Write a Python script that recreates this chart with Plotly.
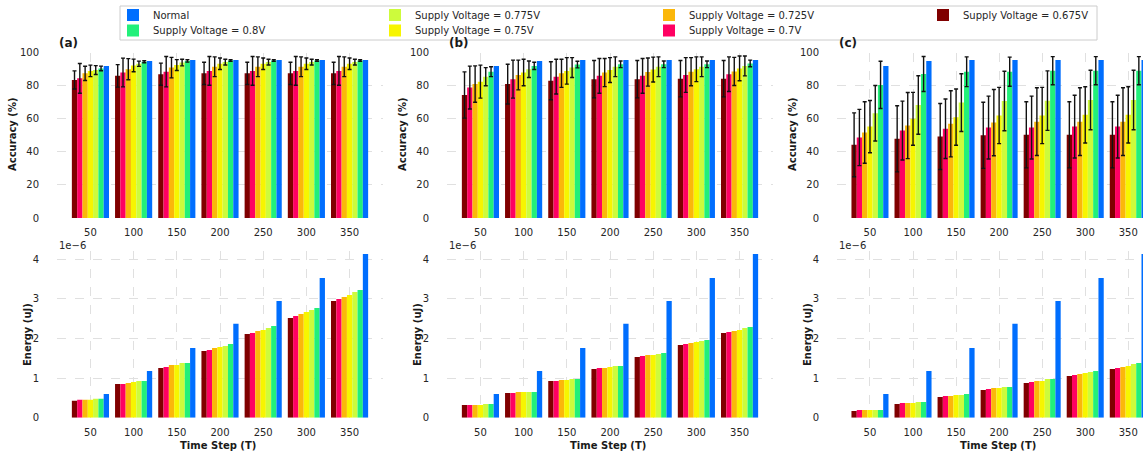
import plotly.graph_objects as go

W, H = 1143, 453

time_steps = [50, 100, 150, 200, 250, 300, 350]
series_names = ["Supply Voltage = 0.675V", "Supply Voltage = 0.7V", "Supply Voltage = 0.725V",
                "Supply Voltage = 0.75V", "Supply Voltage = 0.775V", "Supply Voltage = 0.8V", "Normal"]
series_colors = ["#800000", "#ff0062", "#fbb70a", "#f7f500", "#cdfb3c", "#22f07a", "#006efe"]
# legend slot of each series (matplotlib ncol=4 layout: row-major slots)
legend_ids = ["legend4", "legend7", "legend3", "legend6", "legend2", "legend5", "legend"]

acc_normal = [92, 95, 95.6, 95.6, 95.6, 95.6, 95.6]

# Panel (a) accuracy
acc_a_0675 = [83.5, 86, 87, 87.5, 87.5, 87.5, 87.5]
acc_a_0700 = [84.5, 88, 88.5, 89, 89, 89, 89]
acc_a_0725 = [87.5, 90, 91, 91.5, 91.5, 91.5, 91.5]
acc_a_0750 = [89, 92.3, 92.5, 93.3, 93.3, 93.3, 93.3]
acc_a_0775 = [89.5, 93.3, 94, 94.3, 94.3, 94.3, 94.3]
acc_a_0800 = [90.5, 94.5, 95, 95.3, 95.3, 95.3, 95.3]
err_a_0675 = [5.5, 6.8, 6.7, 6.7, 6.7, 6.7, 6.7]
err_a_0700 = [9, 8.7, 9.2, 8.7, 8.7, 8.7, 8.7]
err_a_0725 = [4.3, 6.4, 6.2, 6, 6, 6, 6]
err_a_0750 = [3.5, 3.8, 3.3, 3.5, 3.5, 3.5, 3.5]
err_a_0775 = [2.7, 1.6, 2, 1.7, 1.7, 1.7, 1.7]
err_a_0800 = [1.4, 0.6, 0.7, 0.5, 0.5, 0.5, 0.5]

# Panel (b) accuracy
acc_b_0675 = [74.4, 81, 83, 84, 84, 84.3, 84.3]
acc_b_0700 = [78.9, 84, 85.5, 86, 86, 86.5, 87]
acc_b_0725 = [81, 86.5, 87.5, 88, 88.3, 88.5, 88.7]
acc_b_0750 = [82.5, 88, 89, 89.5, 89.8, 90, 90.5]
acc_b_0775 = [85.5, 90, 91, 91.5, 91.5, 91.5, 92]
acc_b_0800 = [88.5, 92, 92.8, 93, 93, 93, 93.5]
err_b_0675 = [14, 12, 11.5, 11.3, 11.3, 11, 11]
err_b_0700 = [13, 11.5, 10.5, 10.5, 10.5, 10.5, 10.5]
err_b_0725 = [11, 9, 8.5, 8.5, 8.5, 8.5, 8.5]
err_b_0750 = [10, 8, 8, 7.5, 7.5, 7.5, 7.5]
err_b_0775 = [5.5, 5, 6, 6, 6, 6, 6]
err_b_0800 = [3, 2.2, 2, 2, 2, 2, 2]

# Panel (c) accuracy
acc_c_0675 = [44.3, 47.9, 49.3, 50, 50.3, 50.3, 50.3]
acc_c_0700 = [48.7, 52.9, 54, 54.7, 54.7, 55.3, 55.3]
acc_c_0725 = [51.7, 55.9, 57, 57.7, 58.3, 58.3, 58.3]
acc_c_0750 = [55.3, 60, 61, 62, 62, 62.4, 62.4]
acc_c_0775 = [63.4, 68.4, 69.8, 70.8, 71, 71.4, 71.4]
acc_c_0800 = [80.5, 87.1, 88.5, 88.5, 89.1, 89.1, 89.1]
err_c_0675 = [19.3, 20, 20, 20, 20, 20, 20]
err_c_0700 = [17, 17.8, 18, 19, 19, 19, 19]
err_c_0725 = [18.6, 20, 20, 20, 20.5, 20.5, 20.5]
err_c_0750 = [15.8, 16, 17, 17, 17, 17, 17]
err_c_0775 = [16.8, 17.7, 17.5, 18, 18, 18, 18]
err_c_0800 = [14.3, 10.6, 9, 8.8, 8.5, 8.5, 8.5]

# Energy (in units of 1e-6 uJ)
energy_normal = [0.6, 1.18, 1.76, 2.37, 2.95, 3.53, 4.135]
en_a_0675 = [0.43, 0.85, 1.255, 1.684, 2.114, 2.518, 2.947]
en_a_0700 = [0.455, 0.85, 1.28, 1.71, 2.139, 2.568, 2.998]
en_a_0725 = [0.455, 0.876, 1.33, 1.76, 2.19, 2.619, 3.048]
en_a_0750 = [0.455, 0.9, 1.33, 1.785, 2.215, 2.669, 3.099]
en_a_0775 = [0.48, 0.926, 1.38, 1.81, 2.265, 2.72, 3.175]
en_a_0800 = [0.48, 0.926, 1.38, 1.86, 2.316, 2.77, 3.225]

en_b_0675 = [0.32, 0.623, 0.926, 1.23, 1.533, 1.836, 2.139]
en_b_0700 = [0.32, 0.623, 0.926, 1.255, 1.558, 1.861, 2.164]
en_b_0725 = [0.32, 0.648, 0.95, 1.255, 1.583, 1.886, 2.19]
en_b_0750 = [0.32, 0.648, 0.95, 1.28, 1.583, 1.91, 2.215]
en_b_0775 = [0.345, 0.648, 0.977, 1.305, 1.608, 1.937, 2.265]
en_b_0800 = [0.345, 0.648, 0.977, 1.305, 1.634, 1.962, 2.29]

en_c_0675 = [0.168, 0.345, 0.522, 0.7, 0.876, 1.053, 1.23]
en_c_0700 = [0.194, 0.37, 0.547, 0.724, 0.9, 1.078, 1.255]
en_c_0725 = [0.194, 0.37, 0.547, 0.75, 0.926, 1.103, 1.28]
en_c_0750 = [0.194, 0.37, 0.573, 0.75, 0.926, 1.128, 1.305]
en_c_0775 = [0.194, 0.396, 0.573, 0.775, 0.977, 1.154, 1.356]
en_c_0800 = [0.194, 0.396, 0.598, 0.775, 0.977, 1.18, 1.38]

panels = {
    "a": dict(acc=[acc_a_0675, acc_a_0700, acc_a_0725, acc_a_0750, acc_a_0775, acc_a_0800, acc_normal],
              err=[err_a_0675, err_a_0700, err_a_0725, err_a_0750, err_a_0775, err_a_0800, None],
              en=[en_a_0675, en_a_0700, en_a_0725, en_a_0750, en_a_0775, en_a_0800, energy_normal]),
    "b": dict(acc=[acc_b_0675, acc_b_0700, acc_b_0725, acc_b_0750, acc_b_0775, acc_b_0800, acc_normal],
              err=[err_b_0675, err_b_0700, err_b_0725, err_b_0750, err_b_0775, err_b_0800, None],
              en=[en_b_0675, en_b_0700, en_b_0725, en_b_0750, en_b_0775, en_b_0800, energy_normal]),
    "c": dict(acc=[acc_c_0675, acc_c_0700, acc_c_0725, acc_c_0750, acc_c_0775, acc_c_0800, acc_normal],
              err=[err_c_0675, err_c_0700, err_c_0725, err_c_0750, err_c_0775, err_c_0800, None],
              en=[en_c_0675, en_c_0700, en_c_0725, en_c_0750, en_c_0775, en_c_0800, energy_normal]),
}

FONT = "DejaVu Sans"
TICK_COLOR = "#262626"
GRID = "#e0e0e0"


def px(x):
    return x / W


def py(y):
    return 1 - y / H


cols = [
    dict(key="a", x0=57, x1=383, xr=[11.3, 388.7], off=0),
    dict(key="b", x0=447, x1=773, xr=[11.3, 388.7], off=390),
    dict(key="c", x0=837, x1=1143, xr=[11.7, 367.1], off=780),
]
top_y = (52.7, 218.0)
bot_y = (251.0, 417.7)

fig = go.Figure()
layout = {}
annotations = []

ax_i = 0
for ci, col in enumerate(cols):
    p = panels[col["key"]]
    for row in range(2):
        ax_i += 1
        xa = "x" if ax_i == 1 else f"x{ax_i}"
        ya = "y" if ax_i == 1 else f"y{ax_i}"
        yy = top_y if row == 0 else bot_y
        for si in range(7):
            vals = p["acc"][si] if row == 0 else p["en"][si]
            err = p["err"][si] if row == 0 else None
            tr = go.Bar(
                x=time_steps, y=vals, name=series_names[si],
                marker=dict(color=series_colors[si], line=dict(width=0)),
                xaxis=xa, yaxis=ya,
                legendgroup=series_names[si],
                showlegend=(ax_i == 1),
                legend=legend_ids[si],
            )
            if err is not None:
                tr.error_y = dict(type="data", array=err, visible=True, color="#111111",
                                  thickness=1.4, width=2)
            fig.add_trace(tr)
        xkey = "xaxis" if ax_i == 1 else f"xaxis{ax_i}"
        ykey = "yaxis" if ax_i == 1 else f"yaxis{ax_i}"
        layout[xkey] = dict(
            domain=[px(col["x0"]), px(col["x1"])], range=col["xr"], anchor=ya,
            tickvals=time_steps, ticktext=[str(t) for t in time_steps],
            ticks="outside", ticklen=5, tickcolor="rgba(0,0,0,0)",
            showgrid=True, gridcolor=GRID, griddash="dash", gridwidth=1,
            zeroline=False, showline=False,
            tickfont=dict(family=FONT, size=10, color=TICK_COLOR),
        )
        if row == 0:
            yk = dict(range=[0, 100], tickvals=[0, 20, 40, 60, 80, 100])
        else:
            yk = dict(range=[0, 4.21], tickvals=[0, 1, 2, 3, 4])
        layout[ykey] = dict(
            domain=[py(yy[1]), py(yy[0])], anchor=xa,
            ticks="outside", ticklen=15, tickcolor="rgba(0,0,0,0)",
            showgrid=True, gridcolor=GRID, griddash="dash", gridwidth=1,
            zeroline=False, showline=False,
            tickfont=dict(family=FONT, size=10, color=TICK_COLOR),
            **yk,
        )
    off = col["off"]
    common = dict(xref="paper", yref="paper", showarrow=False, yanchor="middle")
    annotations.append(dict(text="<b>Accuracy (%)</b>", x=px(off + 13), y=py(135), xanchor="center",
                            textangle=-90, font=dict(family=FONT, size=10, color="#1a1a1a"), **common))
    annotations.append(dict(text="<b>Energy (uJ)</b>", x=px(off + 27), y=py(335), xanchor="center",
                            textangle=-90, font=dict(family=FONT, size=10, color="#1a1a1a"), **common))
    annotations.append(dict(text="<b>Time Step (T)</b>", x=px(off + 218), y=py(445), xanchor="center",
                            font=dict(family=FONT, size=10, color="#1a1a1a"), **common))
    annotations.append(dict(text="1e\u22126", x=px(col["x0"]), y=py(245), xanchor="left",
                            font=dict(family=FONT, size=10, color=TICK_COLOR), **common))
    annotations.append(dict(text=f"<b>({col['key']})</b>", x=px(col["x0"]), y=py(43), xanchor="left",
                            font=dict(family=FONT, size=12, color="#1a1a1a"), **common))

# legend slots: (left px, top px) for row-major 4-column layout
legend_slots = {
    "legend": (113, 0.5), "legend2": (375, 0.5), "legend3": (649, 0.5), "legend4": (923, 0.5),
    "legend5": (113, 16), "legend6": (375, 16), "legend7": (649, 16),
}
legend_layout = {}
for lid, (lx, ly) in legend_slots.items():
    legend_layout[lid] = dict(orientation="v", x=px(lx), y=py(ly), xanchor="left", yanchor="top",
                              bgcolor="rgba(0,0,0,0)", borderwidth=0,
                              font=dict(family=FONT, size=10, color=TICK_COLOR))

fig.update_layout(
    width=W, height=H, autosize=False,
    margin=dict(l=0, r=0, t=0, b=0, autoexpand=False),
    paper_bgcolor="white", plot_bgcolor="white",
    barmode="group", bargap=0.14, bargroupgap=0,
    font=dict(family=FONT, size=10, color=TICK_COLOR),
    shapes=[dict(type="rect", xref="paper", yref="paper", x0=px(120), x1=px(1097), y0=py(40), y1=py(6),
                 line=dict(color="#cccccc", width=1), fillcolor="white", layer="above")],
    annotations=annotations,
    **legend_layout,
    **layout,
)

fig.write_html("out.html")
